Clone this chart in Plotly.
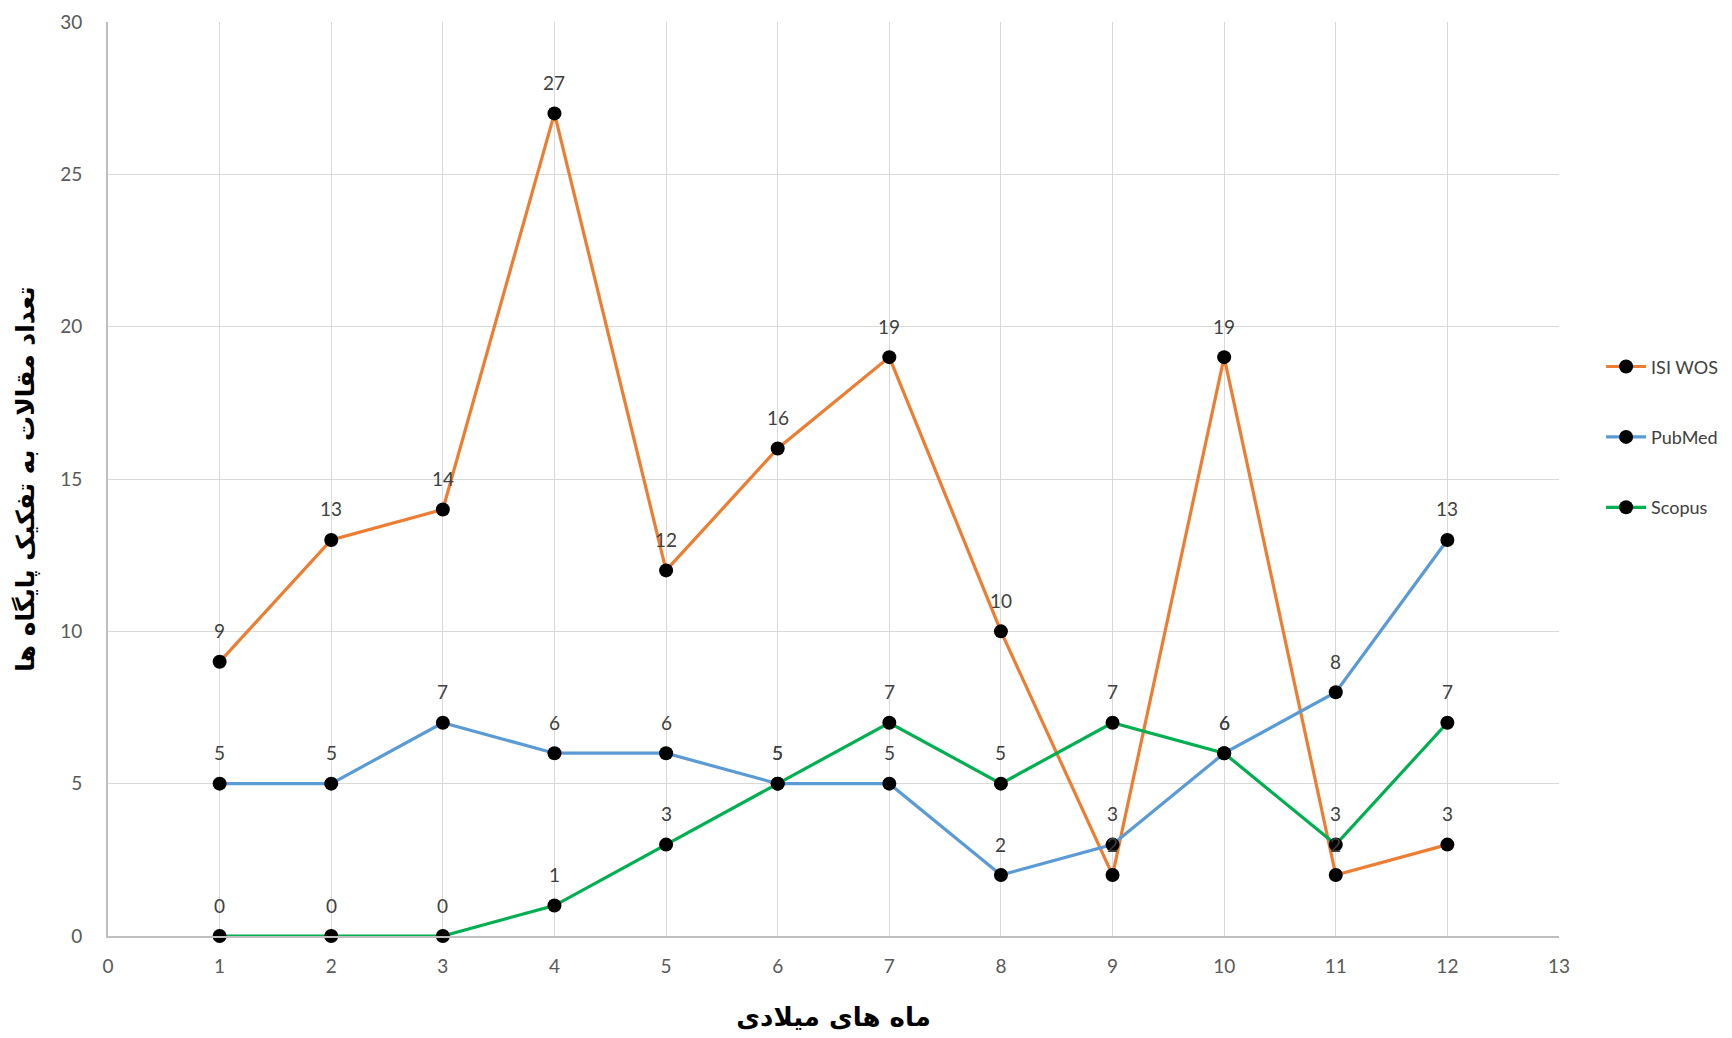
import plotly.graph_objects as go

months = [1, 2, 3, 4, 5, 6, 7, 8, 9, 10, 11, 12]
isi_wos = [9, 13, 14, 27, 12, 16, 19, 10, 2, 19, 2, 3]
pubmed = [5, 5, 7, 6, 6, 5, 5, 2, 3, 6, 8, 13]
scopus = [0, 0, 0, 1, 3, 5, 7, 5, 7, 6, 3, 7]

series = [
    ("ISI WOS", isi_wos, "#ED7D31"),
    ("PubMed", pubmed, "#5B9BD5"),
    ("Scopus", scopus, "#00B050"),
]

x_title = "ماه های میلادی"
y_title = "تعداد مقالات به تفکیک پایگاه ها"

FONT = "Lato, Open Sans, sans-serif"

fig = go.Figure()
annotations = []
for name, vals, color in series:
    fig.add_trace(go.Scatter(
        x=months, y=vals, name=name, legendgroup=name,
        mode="lines+markers",
        line=dict(color=color, width=3.2),
        marker=dict(color="black", size=14),
        cliponaxis=False,
    ))
    for m, v in zip(months, vals):
        annotations.append(dict(
            x=m, y=v, xref="x", yref="y", text=str(v), showarrow=False,
            yshift=31, xanchor="center", yanchor="middle",
            font=dict(family=FONT, size=19, color="#404040"),
        ))

axis_common = dict(
    showgrid=True, gridcolor="#d9d9d9", gridwidth=1.3,
    showline=True, linecolor="#bfbfbf", linewidth=2,
    zeroline=False, ticks="", automargin=False,
    tickfont=dict(family=FONT, size=19, color="#595959"),
)

fig.update_layout(
    width=1732, height=1038,
    margin=dict(l=100, r=181, t=14, b=110, autoexpand=False),
    plot_bgcolor="white", paper_bgcolor="white",
    showlegend=True,
    annotations=annotations,
    legend=dict(
        x=1.029, y=0.643, xanchor="left", yanchor="top",
        font=dict(family=FONT, size=18, color="#404040"),
        tracegroupgap=44, itemwidth=40,
    ),
    xaxis=dict(range=[0, 13], dtick=1, tick0=0, **axis_common,
               title=dict(text=x_title, standoff=32,
                          font=dict(family="DejaVu Sans", size=26, color="black", weight="bold"))),
    yaxis=dict(range=[0, 30], dtick=5, tick0=0, **axis_common,
               title=dict(text=y_title, standoff=18,
                          font=dict(family="DejaVu Sans", size=25, color="black", weight="bold"))),
)
fig.update_xaxes(ticklabelstandoff=12)
fig.update_yaxes(ticklabelstandoff=20)

fig.write_html("out.html")
